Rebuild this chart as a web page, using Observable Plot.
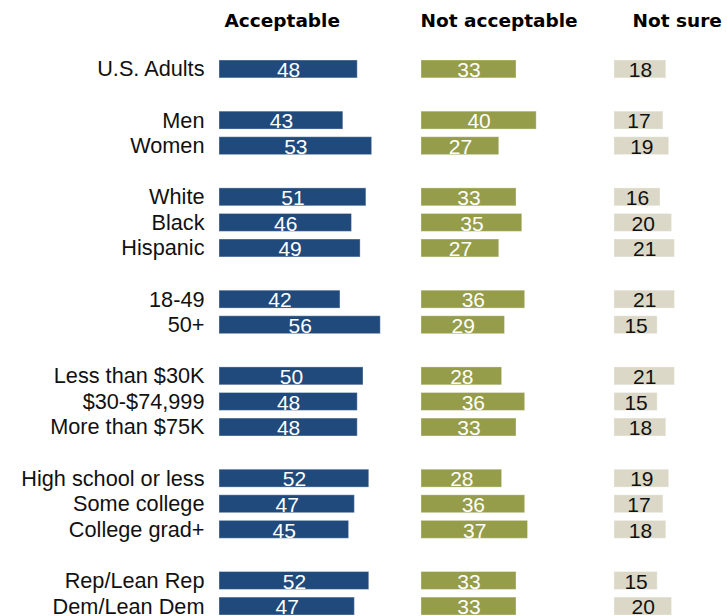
<!DOCTYPE html>
<html>
<head>
<meta charset="utf-8">
<script src="https://cdn.jsdelivr.net/npm/d3@7"></script>
<script src="https://cdn.jsdelivr.net/npm/@observablehq/plot@0.6"></script>
<style>
  html, body { margin: 0; padding: 0; background: #fff; }
  #chart svg { display: block; }
</style>
</head>
<body>
<div id="chart"></div>
<script>
// ---- data ----
const categories = [
  "U.S. Adults",
  "Men", "Women",
  "White", "Black", "Hispanic",
  "18-49", "50+",
  "Less than $30K", "$30-$74,999", "More than $75K",
  "High school or less", "Some college", "College grad+",
  "Rep/Lean Rep", "Dem/Lean Dem"
];
const groupSizes = [1, 2, 3, 2, 3, 3, 2];
const acceptable    = [48, 43, 53, 51, 46, 49, 42, 56, 50, 48, 48, 52, 47, 45, 52, 47];
const notAcceptable = [33, 40, 27, 33, 35, 27, 36, 29, 28, 36, 33, 28, 36, 37, 33, 33];
const notSure       = [18, 17, 19, 16, 20, 21, 21, 15, 21, 15, 18, 19, 17, 18, 15, 20];
const seriesNames = ["Acceptable", "Not acceptable", "Not sure"];

// ---- layout / style ----
const colOffset = [0, 70.14, 137.15];           // column starts in value units
const colFill = ["#214a7c", "#959d4a", "#dbd8c7"];
const textFill = ["#ffffff", "#ffffff", "#111111"];
const headerDx = [5, -1, 18];

// y domain with spacer slots between groups
const yDomain = [];
{
  let i = 0;
  groupSizes.forEach((n, g) => {
    if (g > 0) yDomain.push("_gap" + g);
    for (let k = 0; k < n; k++) yDomain.push(categories[i++]);
  });
}

const seriesValues = [acceptable, notAcceptable, notSure];
const rows = [];
seriesValues.forEach((vals, s) => {
  vals.forEach((v, i) => {
    rows.push({category: categories[i], series: s, value: v,
               x1: colOffset[s], x2: colOffset[s] + v, xm: colOffset[s] + v / 2});
  });
});
const headers = seriesNames.map((name, s) => ({name, s, x: colOffset[s]}));

const chart = Plot.plot({
  width: 727,
  height: 616,
  marginTop: 60,
  marginBottom: 1,
  marginLeft: 219,
  marginRight: 0,
  x: {domain: [0, 176.4], axis: null},
  y: {domain: yDomain, paddingInner: 0.3, paddingOuter: 0, round: false, label: null},
  style: {fontFamily: "'Liberation Sans', Arial, sans-serif", background: "#fff"},
  marks: [
    Plot.axisY({
      tickSize: 0, tickPadding: 15, fontSize: 21.7, fill: "#111",
      tickFormat: d => d.startsWith("_gap") ? "" : d, label: null
    }),
    Plot.barX(rows, {
      y: "category", x1: "x1", x2: "x2",
      fill: d => colFill[d.series],
      stroke: "#ffffff", strokeOpacity: 0.35, strokeWidth: 1
    }),
    Plot.text(rows, {
      y: "category", x: "xm", text: d => String(d.value),
      fill: d => textFill[d.series], fontSize: 21, dy: 1
    }),
    Plot.text(headers, {
      x: "x", text: "name", frameAnchor: "top", dy: -47,
      textAnchor: "start",
      fontFamily: "'DejaVu Sans', sans-serif", fontWeight: "bold", fontSize: 18.5, fill: "#000",
      render: (index, scales, values, dims, context, next) => {
        const g = next(index, scales, values, dims, context);
        d3.select(g).selectAll("text").each(function(_, j) {
          const i = index[j];
          const t = d3.select(this);
          const tr = t.attr("transform") || "";
          t.attr("transform", tr + ` translate(${headerDx[headers[i].s]},0)`);
        });
        return g;
      }
    })
  ]
});
document.getElementById("chart").append(chart);
</script>
</body>
</html>
